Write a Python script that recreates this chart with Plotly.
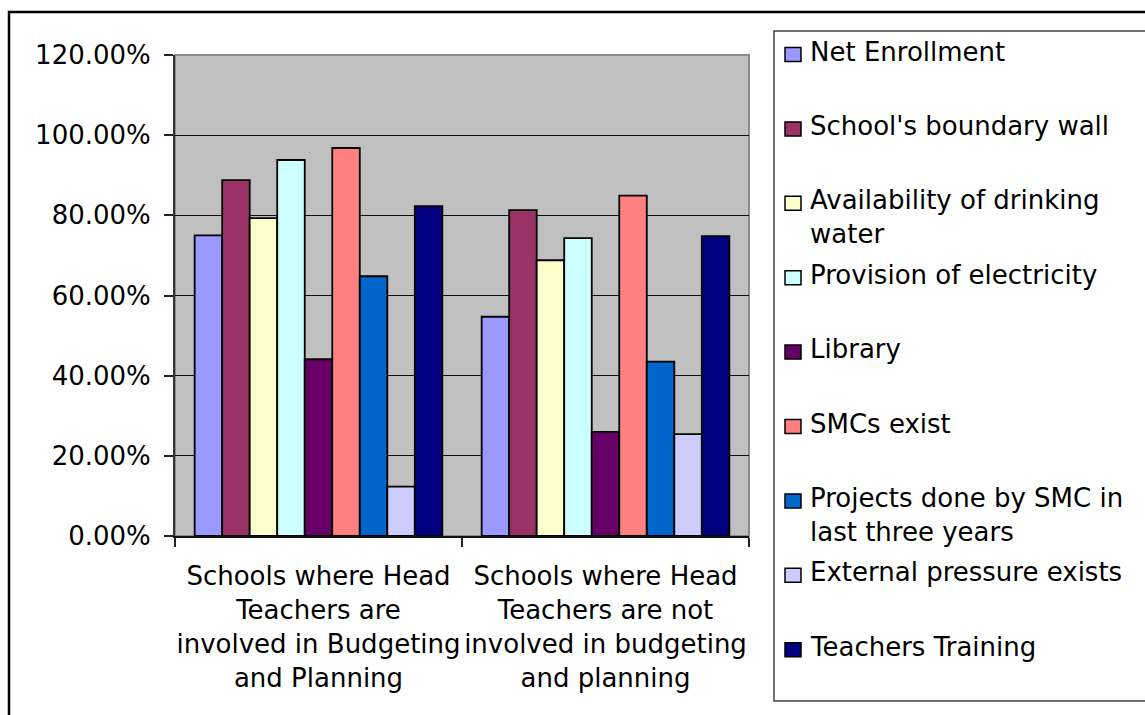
import plotly.graph_objects as go

# Categories (school groups) and indicator series, shares of schools
categories = [
    "Schools where Head<br>Teachers are<br>involved in Budgeting<br>and Planning",
    "Schools where Head<br>Teachers are not<br>involved in budgeting<br>and planning",
]
series_names = [
    "Net Enrollment",
    "School's boundary wall",
    "Availability of drinking<br>water",
    "Provision of electricity",
    "Library",
    "SMCs exist",
    "Projects done by SMC in<br>last three years",
    "External pressure exists",
    "Teachers Training",
]
involved = [0.750, 0.888, 0.793, 0.938, 0.441, 0.968, 0.648, 0.123, 0.823]
not_involved = [0.547, 0.813, 0.688, 0.743, 0.260, 0.849, 0.435, 0.254, 0.748]
colors = ["#9999FF", "#993366", "#FFFFCC", "#CCFFFF", "#660066",
          "#FF8080", "#0066CC", "#CCCCFF", "#000080"]

W, H = 1145, 715
L, R, T, B = 175, 749, 55, 536  # plot area in pixels
FONT = "DejaVu Sans"


def px(x):
    return (x - L) / (R - L)


def py(y):
    return (B - y) / (B - T)


fig = go.Figure()
for name, v1, v2, c in zip(series_names, involved, not_involved, colors):
    fig.add_trace(go.Bar(
        x=categories, y=[v1, v2], name=name.replace("<br>", " "),
        marker=dict(color=c, line=dict(color="black", width=1.8)),
        showlegend=False,
    ))

shapes = []
annotations = []

# outer chart frame
shapes.append(dict(type="rect", xref="paper", yref="paper",
                   x0=px(9), x1=px(1160), y0=py(12), y1=py(730),
                   line=dict(color="black", width=2.5), fillcolor="rgba(0,0,0,0)"))
# plot area border
shapes.append(dict(type="rect", xref="paper", yref="paper",
                   x0=0, x1=1, y0=0, y1=1, layer="below",
                   line=dict(color="#8c8c8c", width=2), fillcolor="rgba(0,0,0,0)"))
# legend box
shapes.append(dict(type="rect", xref="paper", yref="paper",
                   x0=px(774), x1=px(1160), y0=py(31), y1=py(701),
                   line=dict(color="#404040", width=1.5), fillcolor="white"))

row0, step = 52.5, 74.4
for i, (name, c) in enumerate(zip(series_names, colors)):
    yc = row0 + i * step
    shapes.append(dict(type="rect", xref="paper", yref="paper",
                       x0=px(785), x1=px(801), y0=py(yc - 5), y1=py(yc + 9),
                       line=dict(color="black", width=1.5), fillcolor=c))
    annotations.append(dict(
        text=name, xref="paper", yref="paper", x=px(808), y=py(yc - 18),
        xanchor="left", yanchor="top", align="left", showarrow=False,
        font=dict(family=FONT, size=26, color="black"),
    ))

fig.update_layout(
    width=W, height=H,
    margin=dict(l=L, r=W - R, t=T, b=H - B, pad=0, autoexpand=False),
    paper_bgcolor="white", plot_bgcolor="#C0C0C0",
    barmode="group", bargap=0.137, bargroupgap=0,
    font=dict(family=FONT, size=26, color="black"),
    shapes=shapes, annotations=annotations,
    xaxis=dict(
        type="category", tickson="boundaries", ticks="outside", ticklen=9,
        tickwidth=1.5, tickcolor="#222", showline=True, linecolor="#111",
        linewidth=2, showgrid=False, ticklabelstandoff=16, tickangle=0,
        automargin=False,
        tickfont=dict(family=FONT, size=26, color="black"),
    ),
    yaxis=dict(
        range=[0, 1.2], dtick=0.2, tickformat=".2%", ticks="outside",
        ticklen=9, tickwidth=1.5, tickcolor="#222", showline=True,
        linecolor="#333", linewidth=2, showgrid=True, gridcolor="#111",
        gridwidth=1, zeroline=False, ticklabelstandoff=8, automargin=False,
        tickfont=dict(family=FONT, size=26, color="black"),
    ),
)

fig.write_html("out.html")
